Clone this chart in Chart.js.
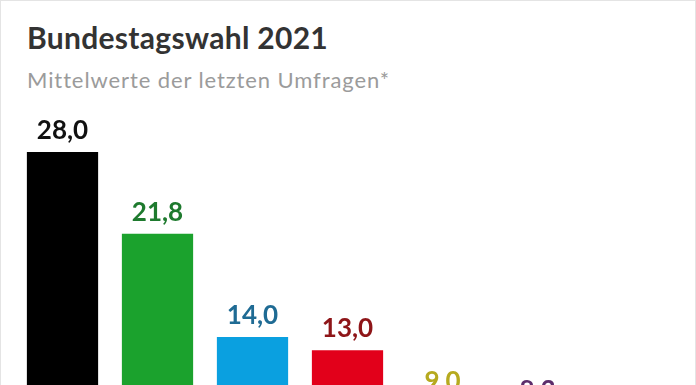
<!DOCTYPE html>
<html>
<head>
<meta charset="utf-8">
<script src="https://cdn.jsdelivr.net/npm/chart.js@4.4.1/dist/chart.umd.min.js"></script>
<style>
  body { margin: 0; background: #fff; font-family: Lato, sans-serif; }
  .card { position: relative; width: 696px; height: 600px; box-sizing: border-box;
          border: 1px solid #e4e4e4; background: #fff; overflow: hidden; }
  h1 { position: absolute; left: 26px; top: 21px; margin: 0; font-size: 30px; line-height: 1;
       font-weight: bold; color: #333; letter-spacing: 0.3px; white-space: nowrap; }
  p.sub { position: absolute; left: 26px; top: 68px; margin: 0; font-size: 22px; line-height: 1;
          color: #9b9b9b; letter-spacing: 0.9px; white-space: nowrap; }
  canvas { position: absolute; left: 0; top: 0; }
</style>
</head>
<body>
<div class="card">
  <h1>Bundestagswahl 2021</h1>
  <p class="sub">Mittelwerte der letzten Umfragen*</p>
  <div style="position:absolute;left:0;top:0;width:694px;height:560px">
    <canvas id="umfrage"></canvas>
  </div>
</div>
<script>
// Parteien und Mittelwerte
var parteien = ["CDU/CSU", "Grüne", "AfD", "SPD", "FDP", "Linke"];
var werte = [28.0, 21.8, 14.0, 13.0, 9.0, 8.3];
var balkenFarben = ['#000000', '#1ba22d', '#0aa0e0', '#e2001a', '#f2dc00', '#8c3a8c'];
var textFarben = ['#111111', '#1e7a2e', '#1f6b94', '#8e1518', '#b6aa1f', '#5c2d6b'];

// Werte über die Balken schreiben
var wertLabels = {
    id: 'wertLabels',
    afterDatasetsDraw: function(chart) {
        var ctx = chart.ctx;
        var meta = chart.getDatasetMeta(0);
        ctx.save();
        ctx.font = 'bold 26px Lato';
        ctx.textAlign = 'center';
        ctx.textBaseline = 'alphabetic';
        meta.data.forEach(function(bar, i) {
            ctx.fillStyle = textFarben[i];
            ctx.fillText(werte[i].toFixed(1).replace('.', ','), bar.x, bar.y - 13);
        });
        ctx.restore();
    }
};

var ctx = document.getElementById('umfrage').getContext('2d');
var chart = new Chart(ctx, {
    type: 'bar',
    data: {
        labels: parteien,
        datasets: [{
            data: werte,
            backgroundColor: balkenFarben,
            barPercentage: 0.75,
            categoryPercentage: 1.0
        }]
    },
    options: {
        responsive: true,
        maintainAspectRatio: false,
        animation: false,
        layout: { padding: { left: 14, right: 110, top: 98, bottom: 39 } },
        plugins: { legend: { display: false }, tooltip: { enabled: false } },
        scales: {
            x: { display: false },
            y: { display: false, min: 0, max: 32 }
        }
    },
    plugins: [wertLabels]
});
</script>
</body>
</html>
